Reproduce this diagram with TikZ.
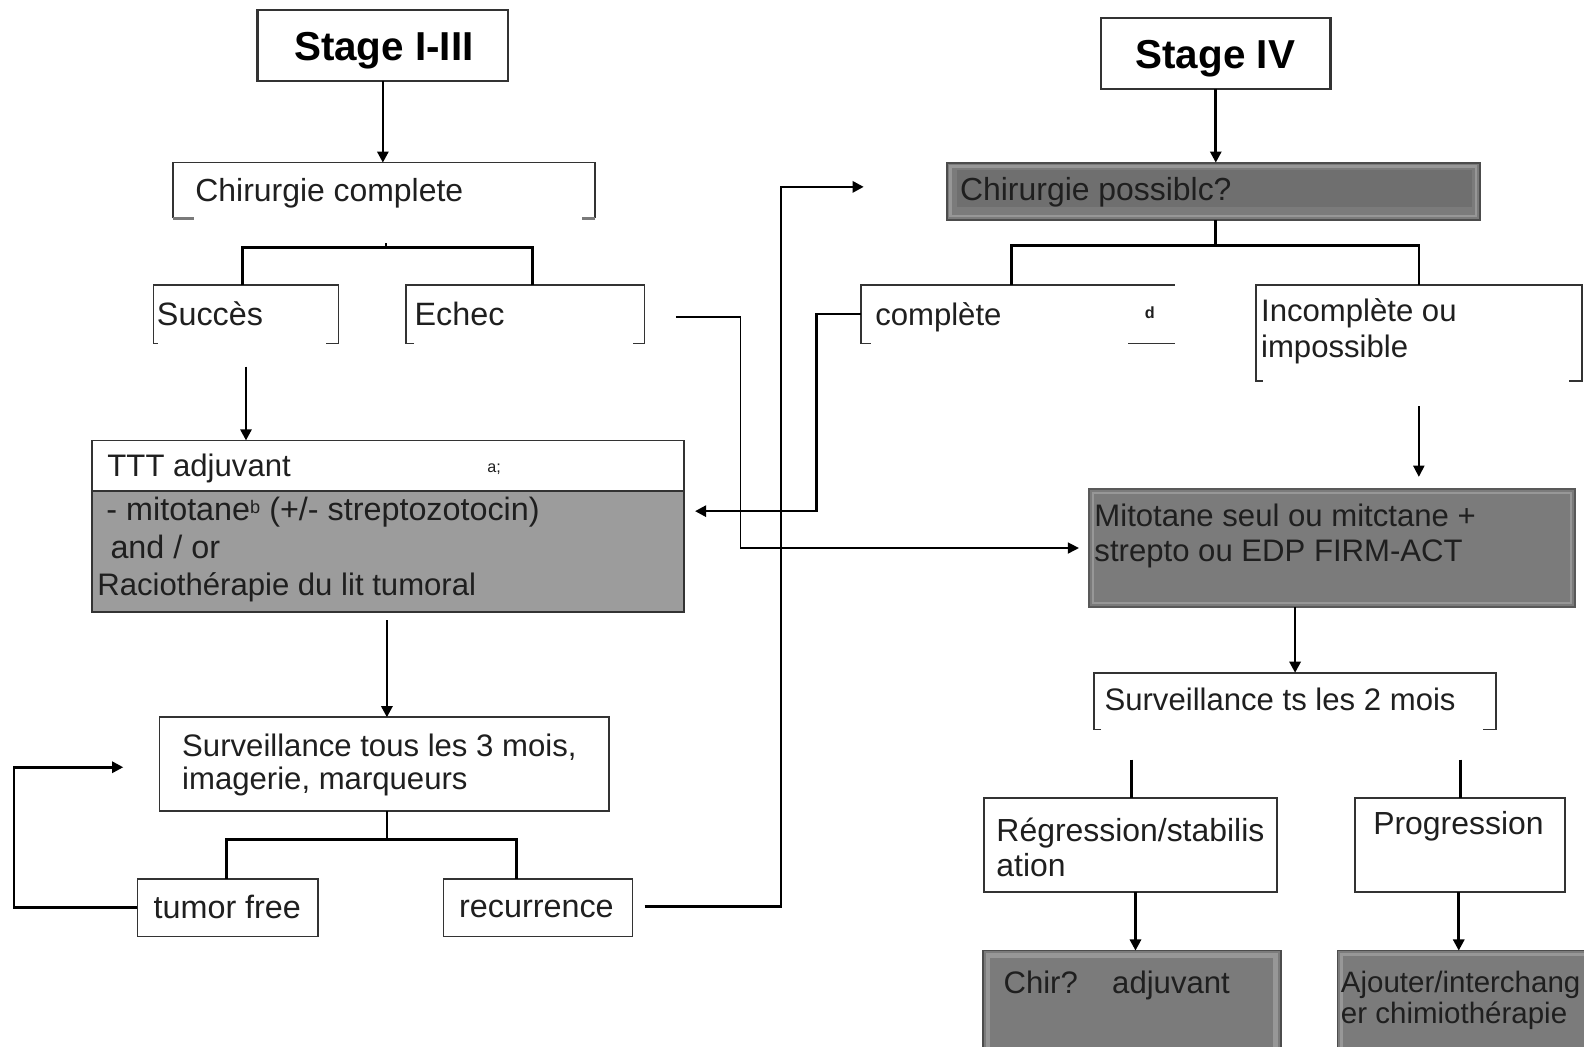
\documentclass[tikz,border=0pt]{standalone}
\usepackage{fontspec}
\setmainfont{Liberation Sans}
\usetikzlibrary{arrows.meta,calc,fit}

\definecolor{boxline}{HTML}{333333}
\definecolor{lightfill}{HTML}{9C9C9C}
\definecolor{darkfill}{HTML}{7B7B7B}
\definecolor{darkband}{HTML}{6F6F6F}
\definecolor{rimgray}{HTML}{979797}
\definecolor{stubgray}{HTML}{7A7A7A}

\begin{document}
\begin{tikzpicture}[x=0.5pt,y=-0.5pt,
  area/.style={inner sep=0pt, outer sep=0pt},
  frame/.style={draw=boxline, line width=0.8pt},
  heavyframe/.style={draw=boxline, line width=1.1pt},
  conn/.style={line width=1.3pt, black},
  arr/.style={conn, -{Triangle[length=5.5pt,width=5.5pt]}},
  thinarr/.style={line width=0.8pt, black, -{Triangle[length=5.5pt,width=5.5pt]}},
  txt/.style={inner sep=0pt, anchor=base west, font=\fontsize{15.4}{18}\selectfont, text=black!88},
  bigtxt/.style={txt, font=\fontsize{16}{19}\selectfont},
  tinytxt/.style={txt, font=\fontsize{8}{9}\selectfont},
  headtxt/.style={inner sep=0pt, anchor=base, font=\fontsize{20}{24}\selectfont\bfseries, text=black}
]
\useasboundingbox (0,0) rectangle (1568,1036);
\fill[white] (0,0) rectangle (1568,1036);
\clip (0,0) rectangle (1568,1036);

% ---------- box areas ----------
\node[area, fit={(255,10) (503,80)}]     (s13)   {};
\node[area, fit={(171,161) (589,216)}]   (cc)    {};
\node[area, fit={(152,282) (335,340)}]   (succ)  {};
\node[area, fit={(402,282) (638,340)}]   (ech)   {};
\node[area, fit={(91,436) (677,606)}]    (ttt)   {};
\node[area, fit={(158,710) (603,803)}]   (surv3) {};
\node[area, fit={(136,870) (315,927)}]   (tf)    {};
\node[area, fit={(439,870) (626,927)}]   (rec)   {};
\node[area, fit={(1090,18) (1317,88)}]   (s4)    {};
\node[area, fit={(937,161) (1465,218)}]  (chirp) {};
\node[area, fit={(852,282) (1163,340)}]  (comp)  {};
\node[area, fit={(1243,282) (1566,377)}] (inc)   {};
\node[area, fit={(1078,484) (1559,601)}] (mit)   {};
\node[area, fit={(1083,666) (1481,722)}] (surv2) {};
\node[area, fit={(974,790) (1264,883)}]  (reg)   {};
\node[area, fit={(1341,790) (1549,883)}] (prog)  {};
\node[area, fit={(973,941) (1268,1045)}] (chira) {};
\node[area, fit={(1324,941) (1590,1045)}](ajout) {};

% ---------- outlines and fills ----------
\draw[heavyframe] (s13.north west) rectangle (s13.south east);
\draw[heavyframe] (s4.north west) rectangle (s4.south east);

% open-bottom brackets
\draw[frame] (cc.south west) -- (cc.north west) -- (cc.north east) -- (cc.south east);
\draw[stubgray, line width=1.6pt] (cc.south west) -- ++(21,0);
\draw[stubgray, line width=1.6pt] (cc.south east) -- ++(-13,0);

\draw[frame] (succ.south west) ++(4,0) -- (succ.south west) -- (succ.north west) -- (succ.north east) -- (succ.south east) -- ++(-12,0);
\draw[frame] (ech.south west) ++(8,0) -- (ech.south west) -- (ech.north west) -- (ech.north east) -- (ech.south east) -- ++(-11,0);
\draw[frame] (comp.south west) ++(10,0) -- (comp.south west) -- (comp.north west) -- (comp.north east);
\draw[frame] (comp.south east) -- ++(-46,0);
\draw[frame] (inc.south west) ++(7,0) -- (inc.south west) -- (inc.north west) -- (inc.north east) -- (inc.south east) -- ++(-13,0);
\draw[frame] (surv2.south west) ++(7,0) -- (surv2.south west) -- (surv2.north west) -- (surv2.north east) -- (surv2.south east) -- ++(-13,0);

% adjuvant treatment box
\fill[lightfill] (ttt.west |- 0,486) rectangle (ttt.south east);
\draw[frame] (ttt.west |- 0,486) -- (ttt.east |- 0,486);
\draw[frame] (ttt.north west) rectangle (ttt.south east);

% plain boxes
\draw[frame] (surv3.north west) rectangle (surv3.south east);
\draw[frame] (tf.north west) rectangle (tf.south east);
\draw[frame] (rec.north west) rectangle (rec.south east);
\draw[frame] (reg.north west) rectangle (reg.south east);
\draw[frame] (prog.north west) rectangle (prog.south east);

% shaded boxes
\fill[darkfill] (chirp.north west) rectangle (chirp.south east);
\draw[rimgray, line width=1.2pt] ($(chirp.north west)+(4,4)$) rectangle ($(chirp.south east)+(-4,-4)$);
\fill[darkband] (947,168) rectangle (1457,205);
\draw[draw=black!70, line width=1pt] (chirp.north west) rectangle (chirp.south east);

\fill[darkfill] (mit.north west) rectangle (mit.south east);
\draw[rimgray, line width=1.2pt] ($(mit.north west)+(4,4)$) rectangle ($(mit.south east)+(-4,-4)$);
\draw[draw=black!65, line width=0.8pt] (mit.north west) rectangle (mit.south east);

\fill[darkfill] (chira.north west) rectangle (chira.south east);
\draw[rimgray, line width=2.4pt] ($(chira.north west)+(5,5)$) rectangle ($(chira.south east)+(-5,-5)$);
\draw[draw=black!70, line width=0.8pt] (chira.north west) rectangle (chira.south east);

\fill[darkfill] (ajout.north west) rectangle (ajout.south east);
\draw[rimgray, line width=1.4pt] ($(ajout.north west)+(4,4)$) rectangle ($(ajout.south east)+(-4,-4)$);
\draw[draw=black!70, line width=0.8pt] (ajout.north west) rectangle (ajout.south east);

% ---------- texts ----------
\node[headtxt] (t-s13) at (380,60) {Stage I-III};
\node[headtxt] (t-s4)  at (1203,68) {Stage IV};

\node[txt, font=\fontsize{15.8}{18}\selectfont] (t-cc) at (193,199) {Chirurgie complete};
\node[bigtxt] (t-succ) at (155,322) {Succès};
\node[bigtxt] (t-ech) at (410,322) {Echec};

\node[txt] (t-ttt) at (106,472) {TTT adjuvant};
\node[tinytxt] (t-ttta) at (482,468) {a;};
\node[bigtxt] (t-mito) at (105,515) {- mitotane{\fontsize{9}{9}\selectfont\raisebox{3.2pt}{b}} (+/- streptozotocin)};
\node[bigtxt] (t-andor) at (109,553) {and / or};
\node[txt] (t-radio) at (96,589) {Raciothérapie du lit tumoral};

\node[txt] (t-sv1) at (180,749) {Surveillance tous les 3 mois,};
\node[txt] (t-sv2) at (180,782) {imagerie, marqueurs};

\node[bigtxt, anchor=base] (t-tf)  at (225,909) {tumor free};
\node[bigtxt, anchor=base] (t-rec) at (531,908) {recurrence};

\node[txt, font=\fontsize{15.8}{18}\selectfont] (t-chirp) at (950,198) {Chirurgie possiblc?};
\node[txt] (t-comp) at (866,322) {complète};
\node[tinytxt, font=\fontsize{8}{9}\selectfont\bfseries] (t-compd) at (1133,315) {d};
\node[txt] (t-inc1) at (1248,318) {Incomplète ou};
\node[txt] (t-inc2) at (1248,354) {impossible};

\node[txt] (t-mit1) at (1083,521) {Mitotane seul ou mitctane +};
\node[txt] (t-mit2) at (1083,556) {strepto ou EDP FIRM-ACT};

\node[txt] (t-sv2m) at (1093,703) {Surveillance ts les 2 mois};

\node[txt, font=\fontsize{15.8}{18}\selectfont] (t-reg1) at (986,833) {Régression/stabilis};
\node[txt, font=\fontsize{15.8}{18}\selectfont] (t-reg2) at (986,868) {ation};
\node[txt, font=\fontsize{15.8}{18}\selectfont] (t-prog) at (1359,826) {Progression};

\node[txt] (t-chira) at (993,983) {Chir?\hspace{17pt}adjuvant};
\node[txt, font=\fontsize{14.6}{17}\selectfont] (t-aj1) at (1327,982) {Ajouter/interchang};
\node[txt, font=\fontsize{14.6}{17}\selectfont] (t-aj2) at (1327,1013) {er chimiothérapie};

% ---------- connectors: Stage I-III ----------
\draw[arr] (s13.south) -- (s13.south |- cc.north);

\coordinate (ccj) at (382,245);
\draw[conn] (ccj) -- ++(0,-4);
\draw[conn] ($(succ.north west)+(88,0)$) |- (ccj) -| ($(ech.north west)+(125,0)$);

\draw[arr] ($(succ.south)+(0,23)$) -- (succ.south |- ttt.north);
\draw[arr] ($(ttt.south)+(-1,8)$) -- ($(ttt.south |- surv3.north)+(-1,0)$);

\coordinate (svj) at (383,831);
\draw[conn] ($(surv3.south)+(2.5,0)$) -- (svj);
\draw[conn] ($(tf.north)+(-1.5,0)$) |- (svj) -| ($(rec.north west)+(72,0)$);

\coordinate (loopx) at (14,0);
\draw[arr] (tf.west) -- (tf.west -| loopx) |- ($(surv3.west)+(-36,3)$);

\coordinate (recTip) at (855,185);
\draw[arr] ($(rec.east)+(12,-1)$) -| ($(recTip)+(-82,0)$) -- (recTip);

\draw[thinarr] ($(ech.east)+(31,3)$) -- ++(64,0) |- ($(mit.west)+(-10,0)$);

\draw[arr] (comp.west) -- ++(-44,0) |- ($(ttt.east)+(11,-15)$);

% ---------- connectors: Stage IV ----------
\draw[arr] (s4.south) -- (s4.south |- chirp.north);

\coordinate (cpj) at (1203,243);
\draw[conn] (cpj |- chirp.south) -- (cpj);
\draw[conn] ($(comp.north west)+(149,0)$) |- (cpj) -| (inc.north);

\draw[thinarr] ($(inc.south)+(0,25)$) -- ($(inc.south |- mit.north)+(0,-12)$);

\draw[arr] (surv2.north |- mit.south) -- (surv2.north);

\draw[conn] ($(reg.north)+(1,-38)$) -- ($(reg.north)+(1,0)$);
\draw[conn] ($(prog.north)+(1,-38)$) -- ($(prog.north)+(1,0)$);

\draw[arr] ($(reg.south)+(5,0)$) -- ($(reg.south |- chira.north)+(5,0)$);
\draw[arr] ($(prog.south)+(-1,0)$) -- ($(prog.south |- ajout.north)+(-1,0)$);
\end{tikzpicture}
\end{document}
